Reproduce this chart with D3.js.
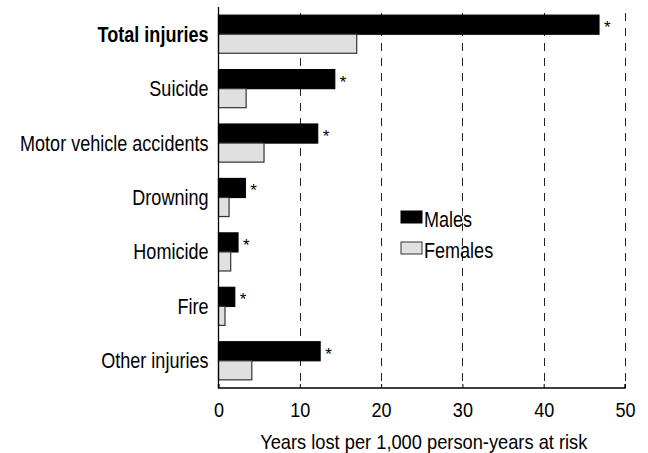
<!DOCTYPE html>
<html>
<head>
<meta charset="utf-8">
<script src="https://cdn.jsdelivr.net/npm/d3@7"></script>
<style>
  html, body { margin: 0; padding: 0; background: #fff; }
  svg { display: block; }
  text { font-family: "Liberation Sans", Arial, sans-serif; fill: #000; }
</style>
</head>
<body>
<svg id="chart" width="648" height="453"></svg>
<script>
const categories = ["Total injuries", "Suicide", "Motor vehicle accidents", "Drowning", "Homicide", "Fire", "Other injuries"];
const males   = [46.8, 14.3, 12.2, 3.3, 2.4, 2.0, 12.5];
const females = [17.0, 3.4, 5.6, 1.3, 1.5, 0.8, 4.1];
const significant = [true, true, true, true, true, true, true];
const seriesNames = ["Males", "Females"];
const xTicks = [0, 10, 20, 30, 40, 50];
const xTitle = "Years lost per 1,000 person-years at risk";

const svg = d3.select("#chart");
const mLeft = 218.5, mRight = 625, mTop = 7, mBottom = 388;
const NARROW = 0.82;

// condense text horizontally (emulates Arial Narrow)
function narrow(sel, r) {
  sel.each(function () {
    const t = d3.select(this);
    const tx = +t.attr("x") || 0, ty = +t.attr("y") || 0;
    t.attr("x", 0).attr("y", 0).attr("transform", `translate(${tx},${ty}) scale(${r},1)`);
  });
}

const x = d3.scaleLinear().domain([0, 50]).range([mLeft, mRight]);
const y = d3.scaleBand().domain(categories).range([mTop, mBottom]).paddingInner(0.3).paddingOuter(0.15);
const ySub = d3.scaleBand().domain(seriesNames).range([0, y.bandwidth()]);

const fills = { Males: "#000000", Females: "#e0e0e0" };
const strokes = { Males: "#000000", Females: "#333333" };

// dashed gridlines
svg.append("g").selectAll("line").data(xTicks.filter(d => d > 0)).join("line")
  .attr("x1", d => Math.round(x(d)) + 0.5).attr("x2", d => Math.round(x(d)) + 0.5)
  .attr("y1", 13).attr("y2", mBottom)
  .attr("stroke", "#222").attr("stroke-width", 1).attr("stroke-dasharray", "8,7");

// bars
const rows = categories.map((c, i) => ({ cat: c, Males: males[i], Females: females[i], sig: significant[i] }));
const g = svg.append("g");
rows.forEach(r => {
  seriesNames.forEach(s => {
    g.append("rect")
      .attr("x", x(0))
      .attr("y", y(r.cat) + ySub(s))
      .attr("width", x(r[s]) - x(0))
      .attr("height", ySub.bandwidth())
      .attr("fill", fills[s])
      .attr("stroke", strokes[s])
      .attr("stroke-width", 1.2);
  });
  if (r.sig) {
    g.append("text")
      .attr("x", x(r.Males) + 5)
      .attr("y", y(r.cat) + ySub("Males") + ySub.bandwidth() / 2 + 8.5)
      .attr("font-size", 17)
      .text("*");
  }
});

// axes
const xAxis = d3.axisBottom(x).tickValues(xTicks).tickSize(4).tickPadding(8);
const gx = svg.append("g").attr("transform", `translate(0,${mBottom})`).call(xAxis);
gx.select(".domain").attr("stroke", "#000").attr("stroke-width", 1.3).attr("d", `M${mLeft},-4V0H${mRight}V-4`);
gx.selectAll(".tick line").attr("y2", -4).attr("stroke", "#000");
gx.selectAll(".tick text").attr("font-size", 21).attr("fill", "#000")
  .attr("font-family", null).attr("y", 28.5).attr("dy", null);
narrow(gx.selectAll(".tick text"), 0.86);

svg.append("line").attr("x1", mLeft).attr("x2", mLeft).attr("y1", mTop).attr("y2", mBottom)
  .attr("stroke", "#000").attr("stroke-width", 1.3);

// category labels
const labels = svg.append("g").selectAll("text").data(categories).join("text")
  .attr("x", 208.5)
  .attr("y", d => y(d) + y.bandwidth() / 2 + 7.5)
  .attr("text-anchor", "end")
  .attr("font-size", 22)
  .attr("font-weight", (d, i) => i === 0 ? "bold" : "normal")
  .text(d => d);
narrow(labels, NARROW);

// axis title
const title = svg.append("text")
  .attr("x", (mLeft + mRight) / 2 + 2)
  .attr("y", 449)
  .attr("text-anchor", "middle")
  .attr("font-size", 21)
  .text(xTitle);
narrow(title, 0.87);

// legend
const leg = svg.append("g").attr("transform", "translate(401,211)");
seriesNames.forEach((s, i) => {
  leg.append("rect").attr("x", 0).attr("y", i * 31).attr("width", 21).attr("height", 12)
    .attr("fill", fills[s]).attr("stroke", strokes[s]).attr("stroke-width", 1);
  const t = leg.append("text").attr("x", 23).attr("y", i * 31 + 15.5).attr("font-size", 22).text(s);
  narrow(t, NARROW);
});
</script>
</body>
</html>
